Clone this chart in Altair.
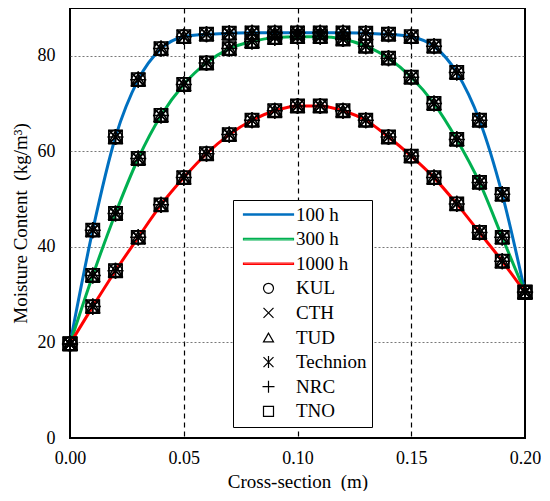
import altair as alt
import pandas as pd

# ---- data ----
x_pos = [0.00, 0.01, 0.02, 0.03, 0.04, 0.05, 0.06, 0.07, 0.08, 0.09, 0.10,
         0.11, 0.12, 0.13, 0.14, 0.15, 0.16, 0.17, 0.18, 0.19, 0.20]

mc_100h = [19.7, 43.5, 63.0, 75.0, 81.5, 84.0, 84.5, 84.7, 84.8, 84.8, 84.8,
           84.8, 84.8, 84.7, 84.5, 84.0, 82.0, 76.5, 66.5, 51.0, 30.5]
mc_300h = [19.7, 34.0, 47.0, 58.5, 67.5, 74.0, 78.5, 81.5, 83.0, 83.8, 84.0,
           84.0, 83.5, 82.0, 79.5, 75.5, 70.0, 62.5, 53.5, 42.0, 30.5]
mc_1000h = [19.7, 27.5, 35.0, 42.0, 48.8, 54.5, 59.5, 63.5, 66.5, 68.5, 69.5,
            69.5, 68.5, 66.5, 63.0, 59.0, 54.5, 49.0, 43.0, 37.0, 30.5]

series_names = ["100 h", "300 h", "1000 h"]
series_values = [mc_100h, mc_300h, mc_1000h]
series_colors = ["#0070C0", "#00B050", "#FF0000"]

labs = ["KUL", "CTH", "TUD", "Technion", "NRC", "TNO"]
lab_shapes = [
    "circle",
    "M-1,-1L1,1M-1,1L1,-1",               # x
    "triangle-up",
    "M-1,-1L1,1M-1,1L1,-1M0,-1.2L0,1.2",  # asterisk
    "M-1.2,0L1.2,0M0,-1.2L0,1.2",         # plus
    "square",
]

y_ticks = [0, 20, 40, 60, 80]
x_ticks = [0.00, 0.05, 0.10, 0.15, 0.20]

# ---- tables ----
line_rows = []
for name, vals in zip(series_names, series_values):
    for xv, yv in zip(x_pos, vals):
        line_rows.append({"x": xv, "mc": yv, "label": name})
lines_df = pd.DataFrame(line_rows)

pt_rows = []
for name, vals in zip(series_names, series_values):
    for lab in labs:
        for xv, yv in zip(x_pos, vals):
            pt_rows.append({"x": xv, "mc": yv, "series": name, "label": lab})
pts_df = pd.DataFrame(pt_rows)

legend_domain = series_names + labs
color_range = series_colors + ["black"] * len(labs)
# thin outlined bar -> reads as a thick coloured line in the legend
line_path = "M-5,-0.14L5,-0.14L5,0.14L-5,0.14Z"
shape_range = [line_path] * 3 + lab_shapes

FONT = "Liberation Serif"
NB = "\u00a0"

x_enc = alt.X("x:Q", scale=alt.Scale(domain=[0, 0.2], nice=False),
              axis=alt.Axis(values=x_ticks, format=".2f", title="Cross-section" + NB + NB + "(m)",
                            grid=True, gridColor="black", gridDash=[5, 4], gridWidth=1.2,
                            gridOpacity={"condition": {"test": "datum.value < 0.001 || datum.value > 0.199", "value": 0}, "value": 1},
                            ticks=False, labelPadding=11, titlePadding=5, domain=False,
                            labelFlush=False))
y_enc = alt.Y("mc:Q", scale=alt.Scale(domain=[0, 90], nice=False),
              axis=alt.Axis(values=y_ticks, title="Moisture Content" + NB + NB + "(kg/m³)",
                            grid=True, gridColor="#555555", gridDash=[2, 2], gridWidth=0.8,
                            gridOpacity={"condition": {"test": "datum.value < 1", "value": 0}, "value": 1},
                            ticks=False, labelPadding=15, titlePadding=7, domain=False,
                            labelFlush=False))

color_scale = alt.Scale(domain=legend_domain, range=color_range)

legend = alt.Legend(
    title=None, orient="none", legendX=163, legendY=192,
    labelFont=FONT, labelFontSize=19, labelColor="black",
    symbolSize=100, symbolOffset=21, labelOffset=18, rowPadding=4.6,
    symbolStrokeWidth=1.2,
    padding=5, strokeColor="black", fillColor="white",
    symbolFillColor="transparent", labelLimit=200,
)

lines = alt.Chart(lines_df).mark_line(interpolate="monotone", strokeWidth=3).encode(
    x=x_enc, y=y_enc,
    color=alt.Color("label:N", scale=color_scale, legend=legend),
    detail="label:N",
)

points = alt.Chart(pts_df).mark_point(filled=False, size=180, opacity=1, strokeWidth=1.5).encode(
    x=x_enc, y=y_enc,
    color=alt.Color("label:N", scale=color_scale, legend=legend),
    shape=alt.Shape("label:N", scale=alt.Scale(domain=legend_domain, range=shape_range), legend=legend),
    detail="series:N",
)

chart = alt.layer(lines, points).properties(
    width=455, height=430,
    background="white",
    padding={"left": 3, "top": 0, "right": 0, "bottom": 0},
).configure_view(
    stroke="black", strokeWidth=2
).configure_axis(
    labelFont=FONT, labelFontSize=18, labelColor="black",
    titleFont=FONT, titleFontSize=19, titleColor="black", titleFontWeight="normal",
)

chart.save("out.html", embed_options={"renderer": "svg", "actions": False})
